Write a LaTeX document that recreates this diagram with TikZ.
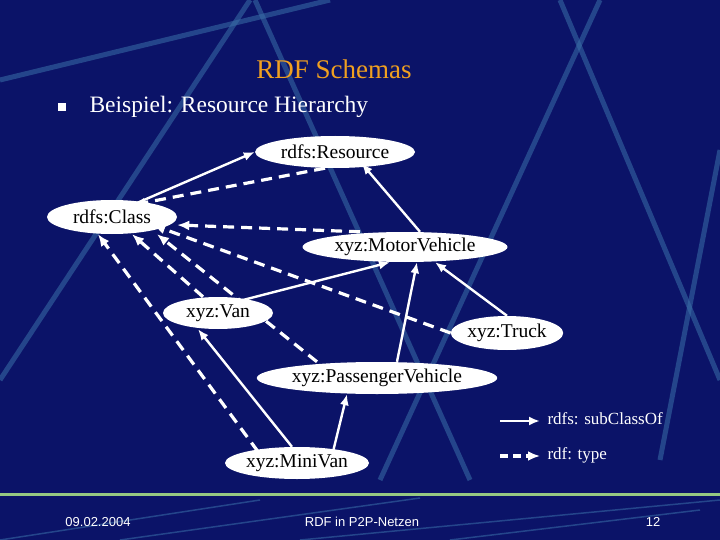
\documentclass[tikz,border=0pt]{standalone}
\usepackage{fontspec}
\setmainfont{Liberation Serif}
\newfontfamily\footfont{Liberation Sans}
\usetikzlibrary{arrows.meta,shapes.geometric}
\definecolor{bg}{HTML}{0B1368}
\definecolor{deco}{HTML}{3A6FA8}
\definecolor{ttl}{HTML}{F0A020}
\begin{document}
\begin{tikzpicture}[x=1pt,y=-1pt,
  cls/.style={ellipse,fill=white,text=black,inner sep=0pt,minimum height=32pt,font=\fontsize{19.5}{21}\selectfont},
  sub/.style={draw=white,line width=2.4pt,-{Latex[length=11pt,width=9pt]}},
  typ/.style={draw=white,line width=3.2pt,dash pattern=on 11pt off 7pt,-{Latex[length=12pt,width=10pt]}},
  deco/.style={draw=deco,line width=5pt,opacity=.55}]
\fill[bg] (0,0) rectangle (720,540);
\useasboundingbox (0,0) rectangle (720,540);
% background decoration
\draw[deco] (250,0) -- (0,380);
\draw[deco] (0,80) -- (330,0);
\draw[deco] (255,0) -- (470,480);
\draw[deco] (600,0) -- (380,480);
\draw[deco] (560,0) -- (720,380);
\draw[deco] (720,150) -- (660,460);
% footer
\draw[draw={rgb,255:red,150;green,200;blue,130},line width=3pt] (0,494) -- (720,494);
\draw[deco,line width=1.5pt] (0,540) -- (260,500) (120,540) -- (420,498) (300,540) -- (720,500) (450,540) -- (700,510);
\node[font=\fontsize{27}{29}\selectfont,text=ttl] (title) at (334,69) {RDF Schemas};
\node[fill=white,minimum size=8pt,inner sep=0pt] (bul) at (62,107) {};
\node[anchor=west,text=white,font=\fontsize{23.5}{25}\selectfont] (head) at (86,107) {Beispiel: Resource Hierarchy};
% classes
\node[cls,minimum width=160pt] (res) at (335,152) {rdfs:Resource};
\node[cls,minimum width=130pt,minimum height=34pt] (cla) at (112,217) {rdfs:Class};
\node[cls,minimum width=205pt,minimum height=30pt] (mv) at (405,247) {xyz:MotorVehicle};
\node[cls,minimum width=110pt] (van) at (218,313) {xyz:Van};
\node[cls,minimum width=112pt,minimum height=34pt] (tru) at (507,333) {xyz:Truck};
\node[cls,minimum width=240pt] (pv) at (377,378) {xyz:PassengerVehicle};
\node[cls,minimum width=115pt] (mini) at (297,463) {xyz:MiniVan};
% subClassOf
\draw[sub] (cla.north east) ++(-30,2) -- (res.west);
\draw[sub] (mv.north) ++(15,0) -- ([xshift=-30pt]res.south east);
\draw[sub] (van.north east) ++(-20,0) -- ([xshift=-15pt]mv.south);
\draw[sub] (tru.north) -- ([xshift=30pt]mv.south);
\draw[sub] (pv.north) ++(20,0) -- ([xshift=12pt]mv.south);
\draw[sub] (mini.north) ++(-5,0) -- ([xshift=-20pt]van.south);
\draw[sub] (mini.north east) ++(-15,0) -- ([xshift=-30pt]pv.south);
% type
\draw[typ] ([xshift=-10pt]res.south) -- ([xshift=-25pt]cla.north east);
\draw[typ] ([xshift=-45pt]mv.north) -- ([xshift=0pt,yshift=-8pt]cla.east);
\draw[typ] (tru.west) -- ([xshift=-5pt,yshift=4pt]cla.south east);
\draw[typ] (van.north) ++(-15,0) -- ([xshift=20pt]cla.south);
\draw[typ] ([xshift=-60pt]pv.north) -- ([xshift=45pt]cla.south);
\draw[typ] (mini.north west) ++(12,0) -- ([xshift=-14pt,yshift=0pt]cla.south);
% legend
\coordinate (l1a) at (500,421); \coordinate (l1b) at (540,421);
\coordinate (l2a) at (500,456); \coordinate (l2b) at (540,456);
\draw[sub] (l1a) -- (l1b);
\draw[typ,dash pattern=on 8pt off 5pt] (l2a) -- (l2b);
\node[anchor=west,text=white,font=\fontsize{17}{18}\selectfont] (lt1) at (544,419) {rdfs: subClassOf};
\node[anchor=west,text=white,font=\fontsize{17}{18}\selectfont] (lt2) at (544,455) {rdf: type};
% footer text
\node[text=white,font=\footfont\fontsize{13}{14}\selectfont] (date) at (98,522) {09.02.2004};
\node[text=white,font=\footfont\fontsize{13}{14}\selectfont] (foot) at (362,522) {RDF in P2P-Netzen};
\node[text=white,font=\footfont\fontsize{13}{14}\selectfont] (page) at (653,522) {12};
\end{tikzpicture}
\end{document}
